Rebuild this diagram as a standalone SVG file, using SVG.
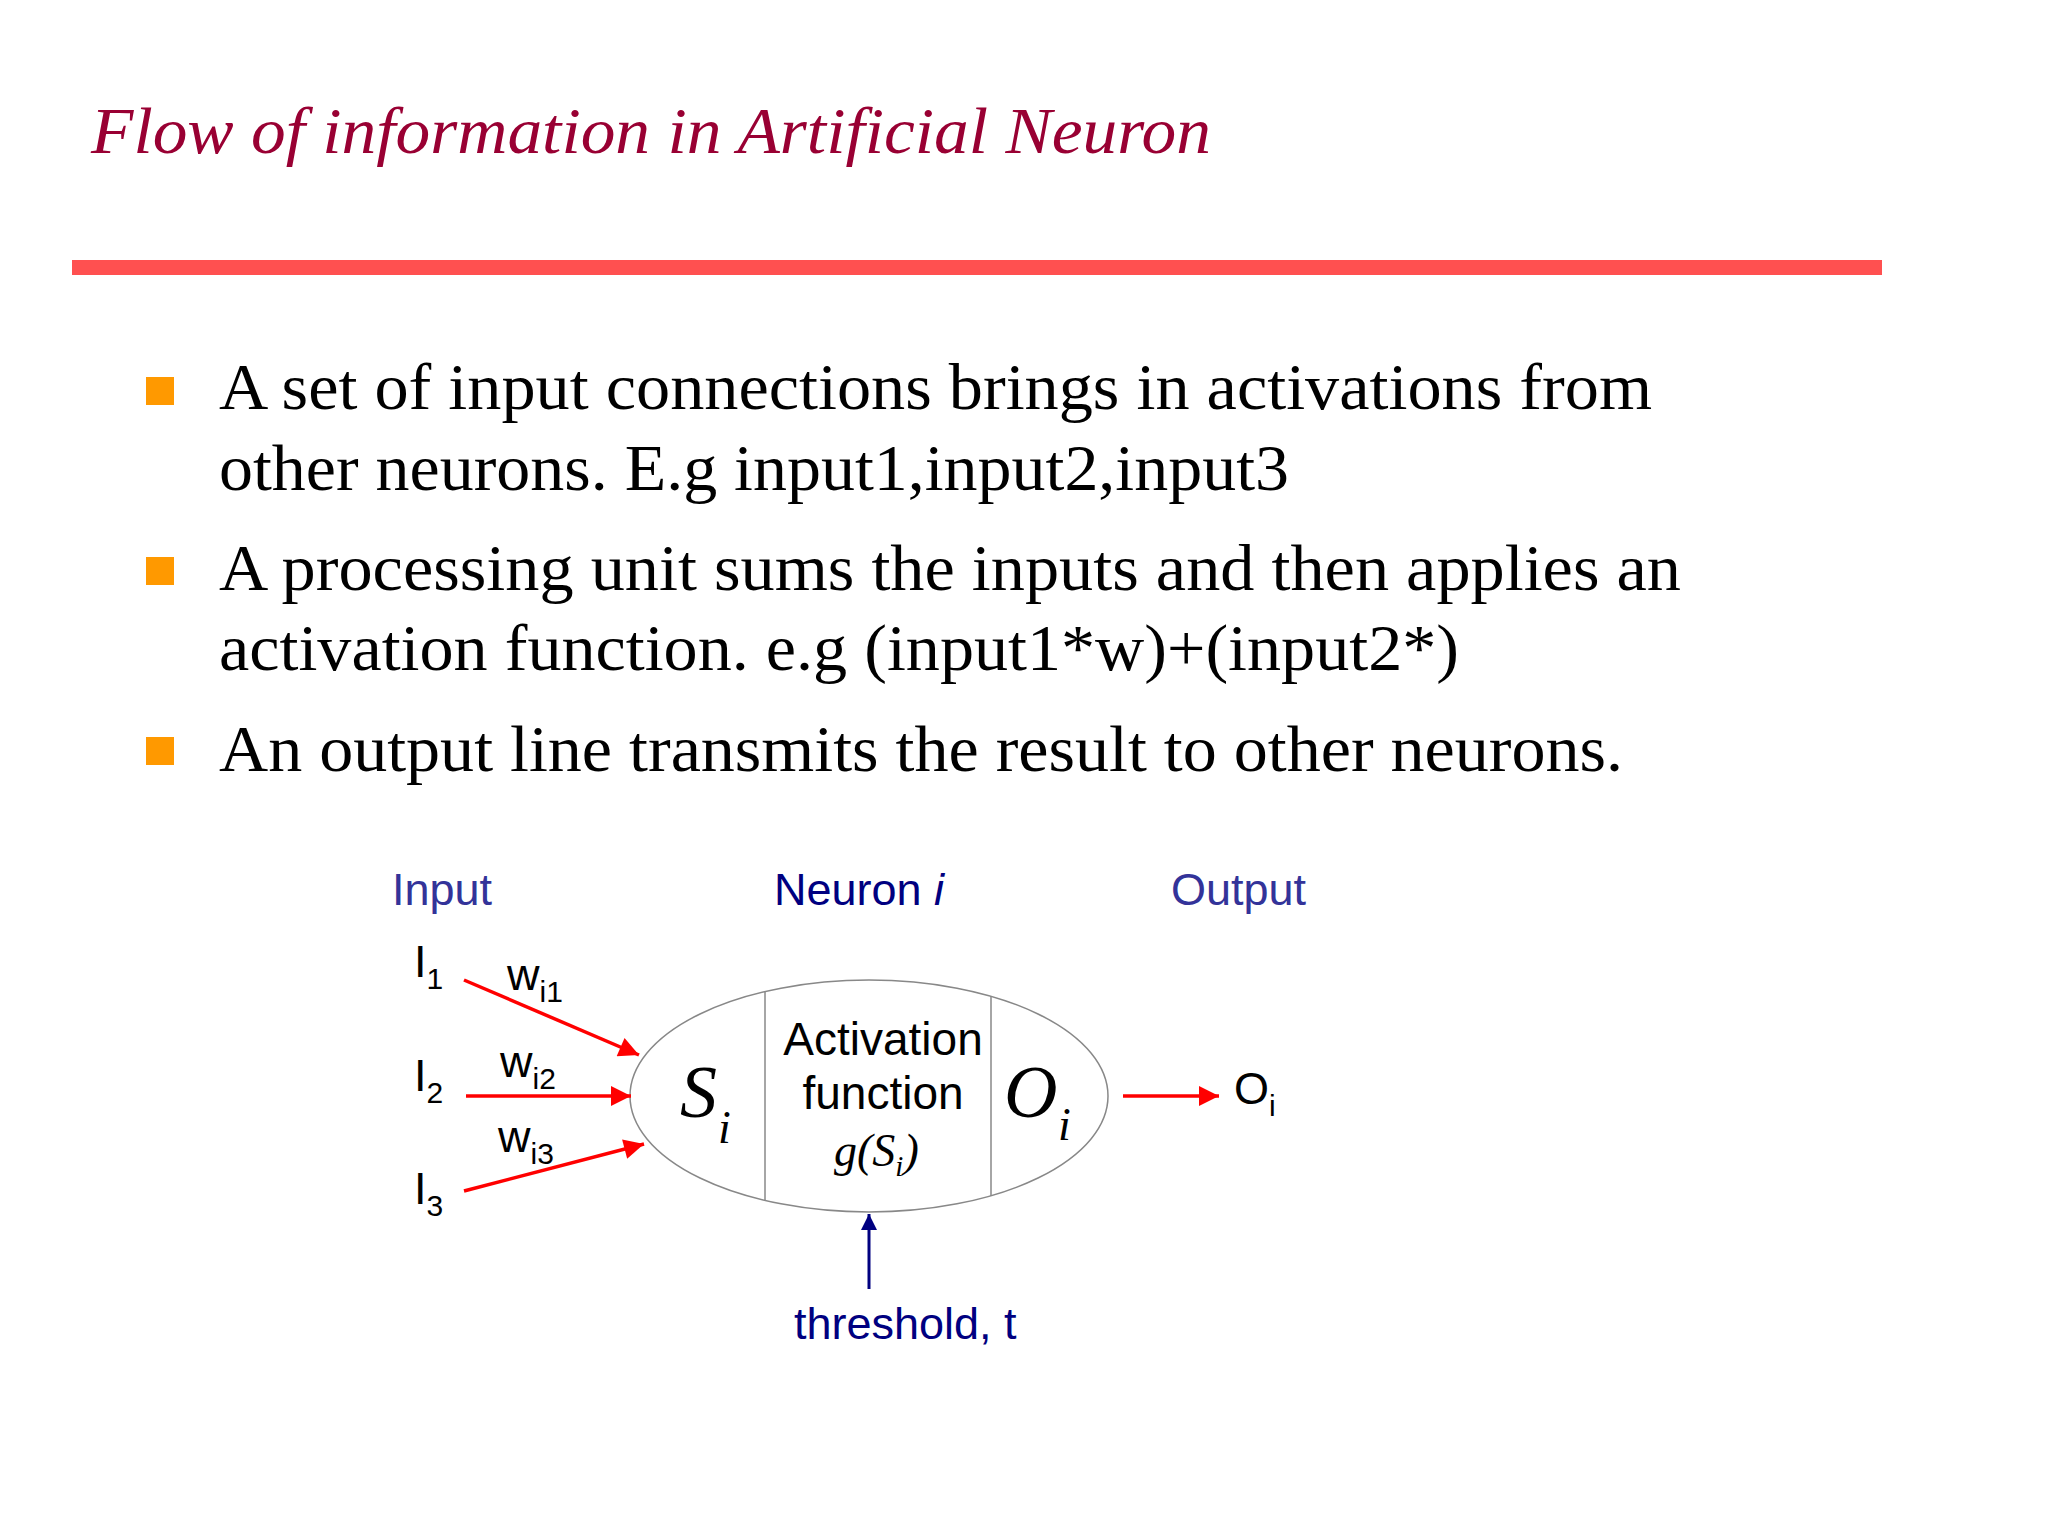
<svg xmlns="http://www.w3.org/2000/svg" width="2048" height="1536" viewBox="0 0 2048 1536">
<style>
.ser{font-family:"Liberation Serif",serif}
.san{font-family:"Liberation Sans",Arial,sans-serif}
.body{font-size:66px;fill:#000}
.lab{font-size:45px}
.red{stroke:#ff0000;stroke-width:3.5;fill:none}
</style>
<defs>
<marker id="ar" viewBox="0 0 10 10" refX="10" refY="5" markerWidth="26" markerHeight="20" markerUnits="userSpaceOnUse" orient="auto"><path d="M0,0 L10,5 L0,10 z" fill="#ff0000"/></marker>
<marker id="ab" viewBox="0 0 10 10" refX="10" refY="5" markerWidth="24" markerHeight="16" markerUnits="userSpaceOnUse" orient="auto"><path d="M0,0 L10,5 L0,10 z" fill="#000080"/></marker>
</defs>
<rect width="2048" height="1536" fill="#fff"/>
<g id="title"><text x="91" y="153" class="ser" font-style="italic" font-size="66" fill="#990033" textLength="1120" lengthAdjust="spacingAndGlyphs">Flow of information in Artificial  Neuron</text>
<rect x="72" y="260" width="1810" height="15" fill="#ff5050"/></g>
<g id="bullets">
<rect x="146" y="377" width="28" height="28" fill="#ff9900"/>
<rect x="146" y="557" width="28" height="28" fill="#ff9900"/>
<rect x="146" y="737" width="28" height="28" fill="#ff9900"/>
<text class="ser body" x="219" y="409" textLength="1433" lengthAdjust="spacingAndGlyphs">A set of input connections brings in activations from</text>
<text class="ser body" x="219" y="490" textLength="1070" lengthAdjust="spacingAndGlyphs">other neurons. E.g input1,input2,input3</text>
<text class="ser body" x="219" y="590" textLength="1462" lengthAdjust="spacingAndGlyphs">A processing unit sums the inputs and then applies an</text>
<text class="ser body" x="219" y="670" textLength="1240" lengthAdjust="spacingAndGlyphs">activation function. e.g (input1*w)+(input2*)</text>
<text class="ser body" x="219" y="771" textLength="1404" lengthAdjust="spacingAndGlyphs">An output line transmits the result to other neurons.</text>
</g>
<g id="headers" class="san lab">
<text x="392" y="905" fill="#333399">Input</text>
<text x="774" y="905" fill="#000080">Neuron <tspan font-style="italic">i</tspan></text>
<text x="1171" y="905" fill="#333399">Output</text>
</g>
<g id="neuron">
<ellipse cx="869" cy="1096" rx="239" ry="116" fill="none" stroke="#888" stroke-width="1.5"/>
<line x1="765" y1="991" x2="765" y2="1201" stroke="#888" stroke-width="1.5"/>
<line x1="991" y1="996" x2="991" y2="1196" stroke="#888" stroke-width="1.5"/>
<text x="680" y="1117" class="ser" font-style="italic" font-size="74">S</text>
<text x="718" y="1143" class="ser" font-style="italic" font-size="46">i</text>
<text x="883" y="1055" class="san" font-size="46" text-anchor="middle">Activation</text>
<text x="883" y="1109" class="san" font-size="46" text-anchor="middle">function</text>
<text x="834" y="1166" class="ser" font-style="italic" font-size="46">g(S<tspan font-size="29" dy="10">i</tspan><tspan dy="-10">)</tspan></text>
<text x="1004" y="1117" class="ser" font-style="italic" font-size="74">O</text>
<text x="1058" y="1140" class="ser" font-style="italic" font-size="46">i</text>
</g>
<g id="labels" class="san lab" fill="#000">
<text x="414" y="977">I<tspan font-size="30" dy="12">1</tspan></text>
<text x="414" y="1091">I<tspan font-size="30" dy="12">2</tspan></text>
<text x="414" y="1204">I<tspan font-size="30" dy="12">3</tspan></text>
<text x="507" y="990">w<tspan font-size="30" dy="12">i1</tspan></text>
<text x="500" y="1077">w<tspan font-size="30" dy="12">i2</tspan></text>
<text x="498" y="1152">w<tspan font-size="30" dy="12">i3</tspan></text>
<text x="1234" y="1104">O<tspan font-size="30" dy="12">i</tspan></text>
<text x="794" y="1339" fill="#000080">threshold, t</text>
</g>
<g id="connectors">
<line class="red" x1="464" y1="980" x2="639" y2="1055" marker-end="url(#ar)"/>
<line class="red" x1="466" y1="1096" x2="631" y2="1096" marker-end="url(#ar)"/>
<line class="red" x1="464" y1="1191" x2="644" y2="1144" marker-end="url(#ar)"/>
<line class="red" x1="1123" y1="1096" x2="1219" y2="1096" marker-end="url(#ar)"/>
<line x1="869" y1="1289" x2="869" y2="1214" stroke="#000080" stroke-width="3" marker-end="url(#ab)"/>
</g>
</svg>
